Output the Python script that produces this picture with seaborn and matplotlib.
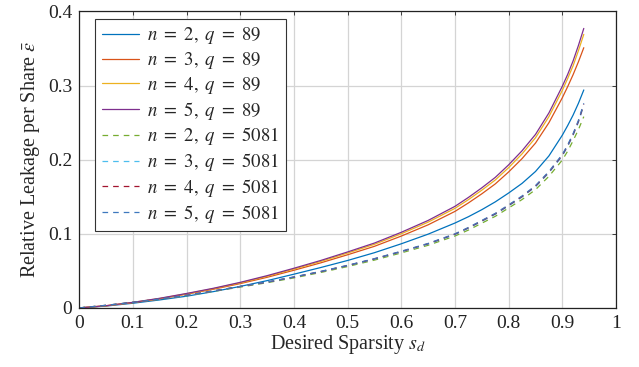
import matplotlib
matplotlib.use('Agg')
import matplotlib.pyplot as plt
import seaborn as sns

# Desired sparsity grid
sparsity = [0.0, 0.05, 0.1, 0.15, 0.2, 0.25, 0.3, 0.35, 0.4, 0.45, 0.5, 0.55, 0.6, 0.65,
            0.7, 0.725, 0.75, 0.775, 0.8, 0.825, 0.85, 0.875, 0.9, 0.91, 0.92, 0.93, 0.94]

# q = 89
n2_q89 = [0, 0.0025, 0.0063, 0.0108, 0.0158, 0.022, 0.029, 0.0368, 0.0455, 0.0545, 0.064, 0.0745, 0.0865, 0.0995,
          0.1145, 0.123, 0.1325, 0.143, 0.155, 0.168, 0.184, 0.205, 0.233, 0.246, 0.26, 0.276, 0.294]
n3_q89 = [0, 0.0028, 0.0071, 0.0123, 0.0185, 0.0252, 0.0328, 0.0413, 0.0508, 0.0608, 0.0717, 0.0831, 0.0969, 0.1121,
          0.1302, 0.1416, 0.1539, 0.1672, 0.1834, 0.2014, 0.2223, 0.2498, 0.2835, 0.2985, 0.3145, 0.332, 0.351]
n4_q89 = [0, 0.0029, 0.0074, 0.0127, 0.0191, 0.026, 0.0338, 0.0426, 0.0524, 0.0627, 0.074, 0.0858, 0.1, 0.1157,
          0.1343, 0.146, 0.1588, 0.1725, 0.1892, 0.2078, 0.2295, 0.258, 0.2935, 0.3095, 0.3265, 0.347, 0.369]
n5_q89 = [0, 0.003, 0.0075, 0.013, 0.0195, 0.0265, 0.0345, 0.0435, 0.0535, 0.064, 0.0755, 0.0875, 0.102, 0.118,
          0.137, 0.149, 0.162, 0.176, 0.193, 0.212, 0.234, 0.263, 0.299, 0.315, 0.333, 0.354, 0.377]

# q = 5081
n2_q5081 = [0, 0.0034, 0.0074, 0.0117, 0.0165, 0.0223, 0.0281, 0.034, 0.0405, 0.0478, 0.0558, 0.0645, 0.0742, 0.0845,
            0.097, 0.105, 0.1143, 0.1235, 0.1348, 0.1462, 0.1595, 0.1775, 0.1995, 0.2115, 0.2255, 0.2405, 0.258]
n3_q5081 = [0, 0.0035, 0.0075, 0.0119, 0.0168, 0.0228, 0.0287, 0.0347, 0.0414, 0.0488, 0.0569, 0.0658, 0.0757, 0.0861,
            0.099, 0.1074, 0.1168, 0.1262, 0.1376, 0.1495, 0.1634, 0.1822, 0.2049, 0.2178, 0.2327, 0.2505, 0.2732]
n4_q5081 = [0, 0.0035, 0.0075, 0.012, 0.017, 0.0229, 0.0289, 0.0348, 0.0416, 0.049, 0.0572, 0.0662, 0.0761, 0.0866,
            0.0995, 0.108, 0.1174, 0.1269, 0.1383, 0.1502, 0.1642, 0.1831, 0.206, 0.2189, 0.2338, 0.2517, 0.2746]
n5_q5081 = [0, 0.0035, 0.0075, 0.012, 0.017, 0.023, 0.029, 0.035, 0.0418, 0.0493, 0.0575, 0.0665, 0.0765, 0.087,
            0.1, 0.1085, 0.118, 0.1275, 0.139, 0.151, 0.165, 0.184, 0.207, 0.22, 0.235, 0.253, 0.276]

labels = [r'$n\ =\ 2,\ q\ =\ 89$', r'$n\ =\ 3,\ q\ =\ 89$', r'$n\ =\ 4,\ q\ =\ 89$', r'$n\ =\ 5,\ q\ =\ 89$',
          r'$n\ =\ 2,\ q\ =\ 5081$', r'$n\ =\ 3,\ q\ =\ 5081$', r'$n\ =\ 4,\ q\ =\ 5081$', r'$n\ =\ 5,\ q\ =\ 5081$']
colors = ['#0072BD', '#D95319', '#EDB120', '#7E2F8E', '#77AC30', '#4DBEEE', '#A2142F', '#3E78BE']
values = [n2_q89, n3_q89, n4_q89, n5_q89, n2_q5081, n3_q5081, n4_q5081, n5_q5081]

sns.set_style('white')
plt.rcParams['font.family'] = 'serif'
plt.rcParams['font.serif'] = ['Liberation Serif', 'Times New Roman', 'DejaVu Serif']
plt.rcParams['mathtext.fontset'] = 'stix'

fig = plt.figure(figsize=(6.39, 3.67), dpi=100)
ax = fig.add_axes([0.124, 0.161, 0.840, 0.808])

for i, (vals, label, color) in enumerate(zip(values, labels, colors)):
    ls = '-' if i < 4 else (0, (4.5, 4))
    sns.lineplot(x=sparsity, y=vals, ax=ax, color=color, linestyle=ls,
                 linewidth=0.9, label=label)

ax.set_xlim(0, 1)
ax.set_ylim(0, 0.4)
ax.set_xticks([0, 0.1, 0.2, 0.3, 0.4, 0.5, 0.6, 0.7, 0.8, 0.9, 1])
ax.set_xticklabels(['0', '0.1', '0.2', '0.3', '0.4', '0.5', '0.6', '0.7', '0.8', '0.9', '1'])
ax.set_yticks([0, 0.1, 0.2, 0.3, 0.4])
ax.set_yticklabels(['0', '0.1', '0.2', '0.3', '0.4'])
ax.grid(True, color='#d4d4d4', linewidth=0.9)
ax.set_axisbelow(True)
ax.tick_params(direction='in', top=True, right=True, length=3, width=0.6,
               labelsize=14, colors='#222222', pad=5)
for sp in ax.spines.values():
    sp.set_color('#222222')
    sp.set_linewidth(0.9)

ax.set_xlabel('Desired Sparsity $s_d$', fontsize=14.5, labelpad=1)
ax.set_ylabel(r'Relative Leakage per Share $\bar{\varepsilon}$', fontsize=14.5, labelpad=4)

leg = ax.legend(loc='upper left', bbox_to_anchor=(0.03, 0.975), fontsize=13.5,
                frameon=True, fancybox=False, edgecolor='#333333', framealpha=1,
                handlelength=2.0, handletextpad=0.4, labelspacing=0.2,
                borderpad=0.35, borderaxespad=0)
leg.get_frame().set_linewidth(0.8)

fig.savefig('out.png', dpi=100)
